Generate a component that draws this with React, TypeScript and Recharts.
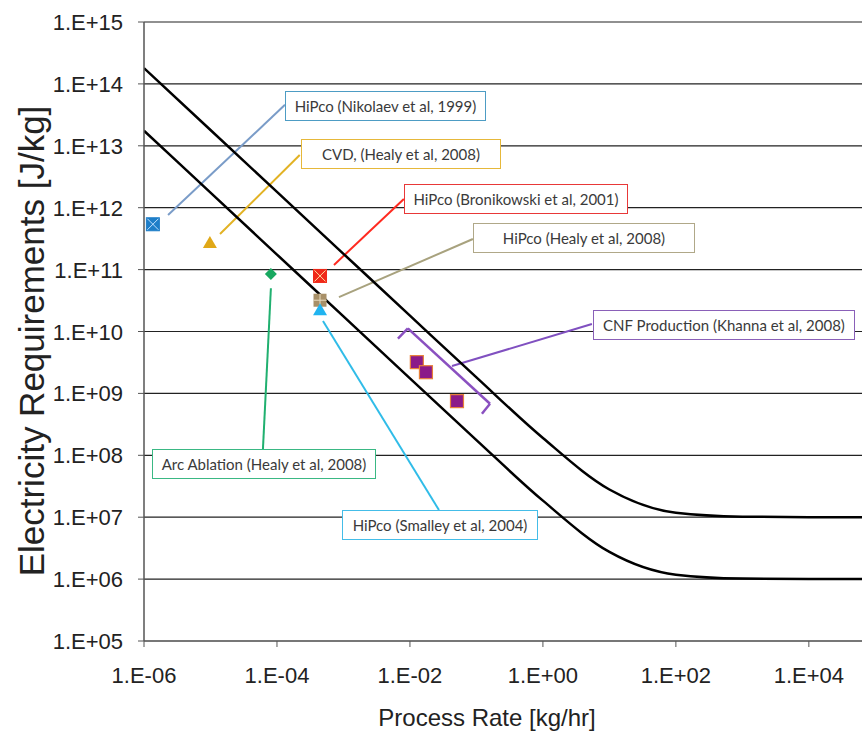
import React from "react";
import { ComposedChart, Line, Scatter, XAxis, YAxis, CartesianGrid, ReferenceLine } from "recharts";

// process rate [kg/hr] and the two bounding curves [J/kg]
const rates = [1e-6, 1e-5, 1e-4, 1e-3, 1e-2, 1e-1, 1, 10, 100, 1000, 1e4, 1e5];
const upperCurve = [1.8e14, 1.8e13, 1.8e12, 1.8e11, 1.8e10, 1.81e9, 1.9e8, 2.8e7, 1.18e7, 1.02e7, 1.0e7, 1.0e7];
const lowerCurve = [1.75e13, 1.75e12, 1.75e11, 1.75e10, 1.75e9, 1.76e8, 1.85e7, 2.75e6, 1.18e6, 1.02e6, 1.0e6, 1.0e6];

const xTicks = [1e-6, 1e-4, 1e-2, 1, 1e2, 1e4];
const xTickLabels = ["1.E-06", "1.E-04", "1.E-02", "1.E+00", "1.E+02", "1.E+04"];
const yTicks = [1e5, 1e6, 1e7, 1e8, 1e9, 1e10, 1e11, 1e12, 1e13, 1e14, 1e15];
const yTickLabels = ["1.E+05", "1.E+06", "1.E+07", "1.E+08", "1.E+09", "1.E+10", "1.E+11", "1.E+12", "1.E+13", "1.E+14", "1.E+15"];

// reported production points
const nikolaev = [{ x: 1.36e-6, y: 5.4e11 }];
const cvdHealy = [{ x: 9.8e-6, y: 2.7e11 }];
const arcHealy = [{ x: 8.1e-5, y: 8.5e10 }];
const bronikowski = [{ x: 4.44e-4, y: 7.9e10 }];
const hipcoHealy = [{ x: 4.44e-4, y: 3.2e10 }];
const smalley = [{ x: 4.44e-4, y: 2.2e10 }];
const khanna = [
  { x: 1.27e-2, y: 3.2e9 },
  { x: 1.74e-2, y: 2.2e9 },
  { x: 5.1e-2, y: 7.5e8 },
];

// leader lines from the points to the callouts
const leaderNikolaev = [{ x: 2.3e-6, y: 7.6e11 }, { x: 1.32e-4, y: 4.6e13 }];
const leaderCvd = [{ x: 1.39e-5, y: 3.76e11 }, { x: 2.2e-4, y: 7.1e12 }];
const leaderArc = [{ x: 8.1e-5, y: 5.0e10 }, { x: 6.15e-5, y: 1.26e8 }];
const leaderBronikowski = [{ x: 7.2e-4, y: 1.19e11 }, { x: 8.1e-3, y: 1.38e12 }];
const leaderHealy = [{ x: 8.55e-4, y: 3.6e10 }, { x: 8.85e-2, y: 3.12e11 }];
const leaderSmalley = [{ x: 4.92e-4, y: 1.48e10 }, { x: 2.73e-2, y: 1.31e7 }];
const leaderKhanna = [{ x: 4.29e-2, y: 2.77e9 }, { x: 5.46, y: 1.32e10 }];
const khannaBracket = [
  { x: 6.6e-3, y: 7.7e9 },
  { x: 9.3e-3, y: 1.12e10 },
  { x: 0.16, y: 6.8e8 },
  { x: 0.121, y: 4.7e8 },
];

const upperData = rates.map((x, i) => ({ x, y: upperCurve[i] }));
const lowerData = rates.map((x, i) => ({ x, y: lowerCurve[i] }));

const callouts = [
  { text: "HiPco (Nikolaev et al, 1999)", color: "#4d9cc4", left: 285, top: 91, width: 201 },
  { text: "CVD, (Healy et al, 2008)", color: "#e6b83a", left: 301, top: 139, width: 200 },
  { text: "HiPco (Bronikowski et al, 2001)", color: "#e83838", left: 404, top: 184, width: 224 },
  { text: "HiPco (Healy et al, 2008)", color: "#b0a888", left: 473, top: 223, width: 222 },
  { text: "CNF Production (Khanna et al, 2008)", color: "#8a60b8", left: 593, top: 310, width: 262 },
  { text: "Arc Ablation (Healy et al, 2008)", color: "#3ab884", left: 152, top: 449, width: 224 },
  { text: "HiPco (Smalley et al, 2004)", color: "#44bde8", left: 342, top: 510, width: 196 },
];

const AX_FONT = "'Liberation Sans', Arial, sans-serif";

const XTick = (props: any) => {
  const { x, y, payload } = props;
  return (
    <text x={x} y={y + 34} textAnchor="middle" fontSize={22} fill="#222" fontFamily={AX_FONT}>
      {xTickLabels[xTicks.indexOf(payload.value)]}
    </text>
  );
};

const YTick = (props: any) => {
  const { x, y, payload } = props;
  return (
    <text x={x - 13} y={y + 8} textAnchor="end" fontSize={22} fill="#222" fontFamily={AX_FONT}>
      {yTickLabels[yTicks.indexOf(payload.value)]}
    </text>
  );
};

const boxX = (fill: string, mark: string) => (props: any) => {
  const { cx, cy } = props;
  const s = 6.5;
  return (
    <g>
      <rect x={cx - s} y={cy - s} width={2 * s} height={2 * s} fill={fill} stroke={fill} />
      <line x1={cx - s + 1} y1={cy - s + 1} x2={cx + s - 1} y2={cy + s - 1} stroke={mark} strokeWidth={1} />
      <line x1={cx - s + 1} y1={cy + s - 1} x2={cx + s - 1} y2={cy - s + 1} stroke={mark} strokeWidth={1} />
    </g>
  );
};

const boxPlus = (fill: string, mark: string) => (props: any) => {
  const { cx, cy } = props;
  const s = 6.5;
  return (
    <g>
      <rect x={cx - s} y={cy - s} width={2 * s} height={2 * s} fill={fill} />
      <line x1={cx} y1={cy - s} x2={cx} y2={cy + s} stroke={mark} strokeWidth={1} />
      <line x1={cx - s} y1={cy} x2={cx + s} y2={cy} stroke={mark} strokeWidth={1} />
    </g>
  );
};

const triangle = (fill: string) => (props: any) => {
  const { cx, cy } = props;
  return <polygon points={`${cx},${cy - 7} ${cx + 7},${cy + 5} ${cx - 7},${cy + 5}`} fill={fill} />;
};

const diamond = (fill: string) => (props: any) => {
  const { cx, cy } = props;
  return <polygon points={`${cx},${cy - 6} ${cx + 6},${cy} ${cx},${cy + 6} ${cx - 6},${cy}`} fill={fill} />;
};

const purpleSquare = (props: any) => {
  const { cx, cy } = props;
  return <rect x={cx - 6.5} y={cy - 6.5} width={13} height={13} fill="#8b1a89" stroke="#e8803a" strokeWidth={1.2} />;
};

export default function App() {
  const leaders: [{ x: number; y: number }[], string][] = [
    [leaderNikolaev, "#7a9cc8"],
    [leaderCvd, "#e2b224"],
    [leaderArc, "#20b070"],
    [leaderBronikowski, "#ff2a20"],
    [leaderHealy, "#a8a27e"],
    [leaderSmalley, "#30bce8"],
    [leaderKhanna, "#8050c0"],
  ];
  return (
    <div style={{ position: "absolute", left: 0, top: 0, width: 863, height: 734, background: "#fff", overflow: "hidden" }}>
      <ComposedChart width={863} height={734} margin={{ top: 22, right: 1, bottom: 0, left: 0 }}>
        <CartesianGrid vertical={false} stroke="#222" strokeWidth={1.2} />
        <XAxis
          dataKey="x"
          type="number"
          scale="log"
          domain={[1e-6, 63000]}
          allowDataOverflow
          ticks={xTicks}
          height={93}
          tick={<XTick />}
          axisLine={{ stroke: "#777", strokeWidth: 2 }}
          tickLine={{ stroke: "#555" }}
          tickSize={6}
        />
        <YAxis
          dataKey="y"
          type="number"
          scale="log"
          domain={[1e5, 1e15]}
          allowDataOverflow
          ticks={yTicks}
          width={144}
          tick={<YTick />}
          axisLine={{ stroke: "#555", strokeWidth: 1.5 }}
          tickLine={{ stroke: "#555" }}
          tickSize={6}
        />
        {leaders.map(([pts, c], i) => (
          <ReferenceLine key={i} segment={pts} stroke={c} strokeWidth={2} ifOverflow="visible" />
        ))}
        {khannaBracket.slice(0, -1).map((p, i) => (
          <ReferenceLine key={"b" + i} segment={[p, khannaBracket[i + 1]]} stroke="#8a50c0" strokeWidth={2.5} ifOverflow="visible" />
        ))}
        <Line data={upperData} dataKey="y" type="monotone" stroke="#000" strokeWidth={2.5} dot={false} isAnimationActive={false} />
        <Line data={lowerData} dataKey="y" type="monotone" stroke="#000" strokeWidth={2.5} dot={false} isAnimationActive={false} />
        <Scatter data={nikolaev} shape={boxX("#1e7ec8", "#bfe0ff")} isAnimationActive={false} />
        <Scatter data={cvdHealy} shape={triangle("#e0a818")} isAnimationActive={false} />
        <Scatter data={arcHealy} shape={diamond("#18a860")} isAnimationActive={false} />
        <Scatter data={bronikowski} shape={boxX("#f02818", "#ffd8a0")} isAnimationActive={false} />
        <Scatter data={hipcoHealy} shape={boxPlus("#a89068", "#e8dcc0")} isAnimationActive={false} />
        <Scatter data={smalley} shape={triangle("#20b4f0")} isAnimationActive={false} />
        <Scatter data={khanna} shape={purpleSquare} isAnimationActive={false} />
      </ComposedChart>

      {callouts.map((c) => (
        <div
          key={c.text}
          style={{
            position: "absolute",
            left: c.left,
            top: c.top,
            width: c.width,
            height: 30,
            boxSizing: "border-box",
            border: `1.5px solid ${c.color}`,
            background: "#fff",
            display: "flex",
            alignItems: "center",
            justifyContent: "center",
            fontFamily: "Lato, 'Open Sans', sans-serif",
            fontSize: 15,
            color: "#3a3a3a",
            whiteSpace: "nowrap",
          }}
        >
          {c.text}
        </div>
      ))}

      <div
        style={{
          position: "absolute",
          left: 32,
          top: 341,
          transform: "translate(-50%, -50%) rotate(-90deg)",
          whiteSpace: "nowrap",
          fontFamily: AX_FONT,
          fontSize: 35,
          color: "#222",
        }}
      >
        Electricity Requirements [J/kg]
      </div>
      <div
        style={{
          position: "absolute",
          left: 487,
          top: 718,
          transform: "translate(-50%, -50%)",
          whiteSpace: "nowrap",
          fontFamily: AX_FONT,
          fontSize: 24,
          color: "#222",
        }}
      >
        Process Rate [kg/hr]
      </div>
    </div>
  );
}
